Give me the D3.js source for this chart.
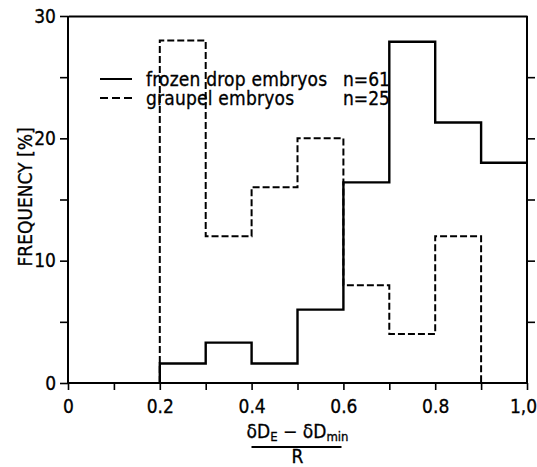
<!DOCTYPE html>
<html>
<head>
<meta charset="utf-8">
<script src="https://cdn.jsdelivr.net/npm/d3@7"></script>
<style>
  body { margin: 0; background: #fff; }
  text { font-family: "DejaVu Sans Condensed", "DejaVu Sans", sans-serif; fill: #000;
         stroke: #000; stroke-width: 0.3px; }
</style>
</head>
<body>
<script>
// bin edges of the normalised position, 0.2 .. 1.0
const binEdges = [0.2, 0.3, 0.4, 0.5, 0.6, 0.7, 0.8, 0.9, 1.0]
// frequency in % per bin
const frozenDrop = [1.6, 3.3, 1.6, 6.0, 16.4, 27.9, 21.3, 18.0]
const graupel = [28, 12, 16, 20, 8, 4, 12, 0]
const legendLabels = ['frozen drop embryos', 'graupel embryos']
const legendCounts = ['n=61', 'n=25']
const yTicks = [0, 5, 10, 15, 20, 25, 30]
const xTicks = [0, 0.1, 0.2, 0.3, 0.4, 0.5, 0.6, 0.7, 0.8, 0.9, 1.0]

const width = 537
const height = 467
const margin = {top: 16, right: 10, bottom: 84, left: 68}
const fontSize = 19

const svg = d3.select('body').append('svg').attr('width', width).attr('height', height)

const x = d3.scaleLinear().domain([0, 1]).range([margin.left, width - margin.right])
const y = d3.scaleLinear().domain([0, 30]).range([height - margin.bottom, margin.top])

// axes
const leftAxis = svg.append('g').attr('transform', `translate(${x(0)},0)`)
  .call(d3.axisLeft(y).tickValues(yTicks).tickSize(8).tickPadding(4)
    .tickFormat(d => d % 10 === 0 ? d : ''))
const rightAxis = svg.append('g').attr('transform', `translate(${x(1)},0)`)
  .call(d3.axisRight(y).tickValues(yTicks.filter(d => d > 0 && d < 30)).tickSize(8).tickFormat(''))
const bottomAxis = svg.append('g').attr('transform', `translate(0,${y(0)})`)
  .call(d3.axisBottom(x).tickValues(xTicks).tickSize(7).tickPadding(10)
    .tickFormat(d => {
      const r = Math.round(d * 10)
      if (r % 2) return ''
      if (r === 0) return '0'
      if (r === 10) return '1,0'
      return d.toFixed(1)
    }))
const topAxis = svg.append('g').attr('transform', `translate(0,${y(30)})`)
  .call(d3.axisTop(x).tickValues([]).tickSizeOuter(0))

for (const g of [leftAxis, rightAxis, bottomAxis, topAxis]) {
  g.selectAll('path.domain').attr('stroke', '#000').attr('stroke-width', 2)
  g.selectAll('.tick line').attr('stroke', '#000').attr('stroke-width', 1.6)
  g.selectAll('.tick text').attr('font-size', fontSize).attr('fill', '#000')
    .attr('font-family', null)
}
leftAxis.select('path.domain').attr('d', `M0,${y(0)}V${y(30)}`)
rightAxis.select('path.domain').attr('d', `M0,${y(0)}V${y(30)}`)
bottomAxis.select('path.domain').attr('d', `M${x(0)},0H${x(1)}`)
// last label sits against the right edge
bottomAxis.selectAll('.tick text').filter(d => d === 1).attr('dx', -4)

// histogram step outlines: rise at the first edge, step through the bins
const stepPoints = vals => {
  const pts = [[binEdges[0], 0]]
  vals.forEach((v, i) => pts.push([binEdges[i], v]))
  return pts
}
const line = d3.line().x(d => x(d[0])).y(d => y(d[1])).curve(d3.curveStepAfter)

// graupel ends with an empty bin, so the outline drops to 0 at 0.9
svg.append('path').datum(stepPoints(graupel))
  .attr('d', line).attr('fill', 'none').attr('stroke', '#000')
  .attr('stroke-width', 2).attr('stroke-dasharray', '7,3')

// frozen drops continue to the right frame
const fdPts = stepPoints(frozenDrop)
fdPts.push([binEdges[binEdges.length - 1], frozenDrop[frozenDrop.length - 1]])
svg.append('path').datum(fdPts)
  .attr('d', line).attr('fill', 'none').attr('stroke', '#000').attr('stroke-width', 2.4)

// legend
const legend = svg.append('g')
const dashes = [null, '8,4']
legendLabels.forEach((lab, i) => {
  const ly = 79 + i * 19
  legend.append('line').attr('x1', 100).attr('x2', 132).attr('y1', ly).attr('y2', ly)
    .attr('stroke', '#000').attr('stroke-width', 2).attr('stroke-dasharray', dashes[i])
  legend.append('text').attr('x', 146).attr('y', ly + 7).attr('font-size', fontSize)
    .attr('letter-spacing', 0.2).text(lab)
  legend.append('text').attr('x', 343).attr('y', ly + 7).attr('font-size', fontSize)
    .text(legendCounts[i])
})

// axis titles
svg.append('text').attr('transform', `translate(32,197) rotate(-90)`)
  .attr('text-anchor', 'middle').attr('font-size', fontSize)
  .text('FREQUENCY [%]')

const cx = x(0.5)
const num = svg.append('text').attr('x', cx).attr('y', 438).attr('text-anchor', 'middle').attr('font-size', fontSize)
num.append('tspan').text('δD')
num.append('tspan').attr('font-size', 13).attr('dy', 3).text('E')
num.append('tspan').attr('dy', -3).text(' − δD')
num.append('tspan').attr('font-size', 13).attr('dy', 3).text('min')
svg.append('line').attr('x1', cx - 46).attr('x2', cx + 44).attr('y1', 447).attr('y2', 447)
  .attr('stroke', '#000').attr('stroke-width', 2)
svg.append('text').attr('x', cx).attr('y', 463).attr('text-anchor', 'middle').attr('font-size', fontSize).text('R')
</script>
</body>
</html>
